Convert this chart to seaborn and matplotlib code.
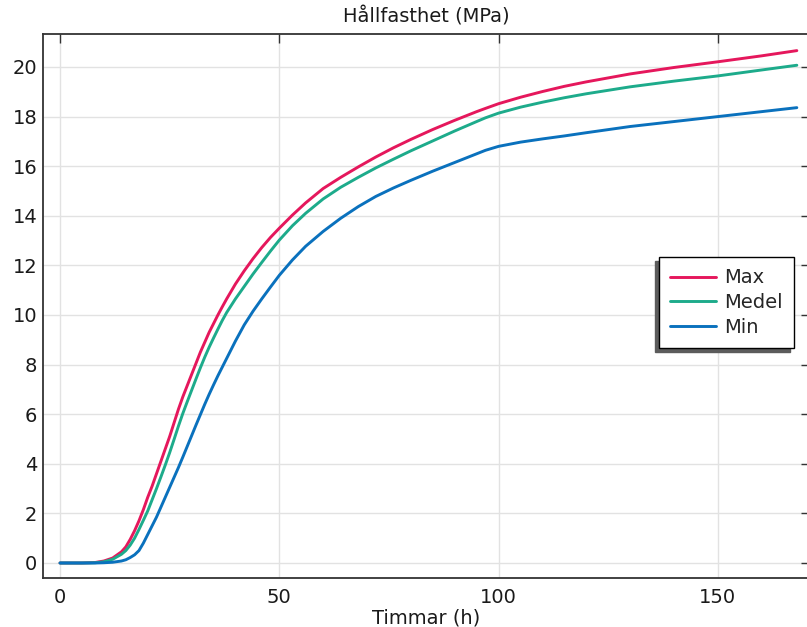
import numpy as np
import pandas as pd
import seaborn as sns
import matplotlib.pyplot as plt

# Hours sampled along the curves
hours = [0, 5, 8, 10, 12,
         14, 15, 16, 17, 18,
         19, 20, 21, 22, 23,
         24, 25, 26, 27, 28,
         29, 30, 31, 32, 33,
         34, 35, 36, 37, 38,
         40, 42, 44, 46, 48,
         50, 53, 56, 60, 64,
         68, 72, 76, 80, 85,
         90, 95, 97, 100, 105,
         110, 115, 120, 130, 140,
         150, 160, 168]

# Strength (MPa)
max_vals = [0, 0, 0.02, 0.08, 0.2,
            0.45, 0.65, 0.95, 1.3, 1.7,
            2.15, 2.65, 3.1, 3.6, 4.1,
            4.6, 5.1, 5.65, 6.2, 6.7,
            7.15, 7.6, 8.05, 8.5, 8.9,
            9.3, 9.65, 10.0, 10.33, 10.65,
            11.25, 11.78, 12.27, 12.72, 13.13,
            13.5, 14.03, 14.52, 15.1, 15.55,
            15.97, 16.37, 16.74, 17.08, 17.48,
            17.85, 18.2, 18.33, 18.52, 18.78,
            19.01, 19.22, 19.4, 19.72, 19.98,
            20.21, 20.45, 20.66]
medel_vals = [0, 0, 0.01, 0.05, 0.15,
              0.35, 0.5, 0.72, 1.0, 1.35,
              1.72, 2.1, 2.55, 3.0, 3.47,
              3.95, 4.45, 4.98, 5.52, 6.03,
              6.5, 6.96, 7.42, 7.87, 8.3,
              8.7, 9.07, 9.43, 9.78, 10.1,
              10.65, 11.15, 11.65, 12.12, 12.58,
              13.02, 13.6, 14.1, 14.68, 15.15,
              15.55, 15.93, 16.28, 16.62, 17.02,
              17.42, 17.8, 17.95, 18.14, 18.38,
              18.58, 18.76, 18.92, 19.2, 19.43,
              19.64, 19.88, 20.07]
min_vals = [0, 0, 0, 0.01, 0.03,
            0.08, 0.13, 0.22, 0.33, 0.5,
            0.8, 1.15, 1.5, 1.85, 2.25,
            2.65, 3.05, 3.45, 3.85, 4.27,
            4.7, 5.13, 5.56, 5.98, 6.4,
            6.8, 7.18, 7.55, 7.9, 8.25,
            8.95, 9.6, 10.15, 10.65, 11.13,
            11.6, 12.22, 12.77, 13.37, 13.9,
            14.37, 14.78, 15.12, 15.43, 15.8,
            16.15, 16.5, 16.64, 16.8, 16.97,
            17.1, 17.22, 17.35, 17.6, 17.8,
            18.0, 18.2, 18.36]

series_names = ["Max", "Medel", "Min"]
colors = ["#e5175c", "#1dab8b", "#0a71bd"]

df = pd.DataFrame({
    "Timmar": hours * 3,
    "MPa": max_vals + medel_vals + min_vals,
    "serie": [n for n in series_names for _ in hours],
})

sns.set_theme(style="white")
plt.rcParams["font.family"] = ["DejaVu Sans"]

fig = plt.figure(figsize=(8.07, 6.27), dpi=100)
ax = fig.add_axes([43 / 807, 49 / 627, 767 / 807, 544 / 627])

sns.lineplot(data=df, x="Timmar", y="MPa", hue="serie", hue_order=series_names,
             palette=colors, linewidth=2.1, ax=ax, legend=False)

ax.set_xlim(-3.88, 171)
ax.set_ylim(-0.605, 21.33)
ax.set_xticks([0, 50, 100, 150])
ax.set_yticks(np.arange(0, 21, 2))
ax.grid(True, color="#e2e2e2", linewidth=1.0)
ax.set_axisbelow(True)

for s in ax.spines.values():
    s.set_color("#333333")
    s.set_linewidth(1.3)

ax.tick_params(direction="in", length=6.5, width=1.0, color="#333333",
               top=True, right=True, labelsize=14, labelcolor="#1a1a1a")
ax.tick_params(axis="x", pad=7)
ax.tick_params(axis="y", pad=4)

ax.set_title("Hållfasthet (MPa)", fontsize=14, pad=8, color="#1a1a1a")
ax.set_xlabel("Timmar (h)", fontsize=14, labelpad=1.5, color="#1a1a1a")
ax.set_ylabel("")

handles = [plt.Line2D([], [], color=c, linewidth=2.1) for c in colors]
leg = ax.legend(handles, series_names, loc="upper right",
                bbox_to_anchor=(0.979, 0.590), borderaxespad=0, fontsize=14,
                fancybox=False, framealpha=1, edgecolor="black",
                handlelength=2.37, handletextpad=0.41, borderpad=0.58,
                labelspacing=0.3,
                shadow={"ox": -2.5, "oy": -3, "color": "#5c5c5c", "alpha": 1})
leg.get_frame().set_linewidth(1.0)

fig.savefig("out.png", dpi=100)
